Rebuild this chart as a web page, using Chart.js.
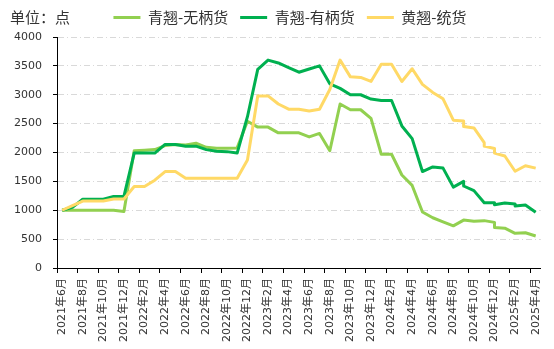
<!DOCTYPE html>
<html>
<head>
<meta charset="utf-8">
<script src="https://cdn.jsdelivr.net/npm/chart.js@4.4.0/dist/chart.umd.min.js"></script>
<style>
  html, body { margin: 0; padding: 0; background: #fff; }
  #contenedor { width: 554px; height: 349px; }
</style>
</head>
<body>
<div id="contenedor"><canvas id="graficoPrecios" width="554" height="349"></canvas></div>
<script>
// ------------------------------------------------------
// Datos: un valor por mes; si el precio cambió dentro del mes va como [antes, después]
// ------------------------------------------------------
const meses = [
    "2021年6月", "2021年7月", "2021年8月", "2021年9月", "2021年10月", "2021年11月", "2021年12月",
    "2022年1月", "2022年2月", "2022年3月", "2022年4月", "2022年5月", "2022年6月",
    "2022年7月", "2022年8月", "2022年9月", "2022年10月", "2022年11月", "2022年12月",
    "2023年1月", "2023年2月", "2023年3月", "2023年4月", "2023年5月", "2023年6月",
    "2023年7月", "2023年8月", "2023年9月", "2023年10月", "2023年11月", "2023年12月",
    "2024年1月", "2024年2月", "2024年3月", "2024年4月", "2024年5月", "2024年6月",
    "2024年7月", "2024年8月", "2024年9月", "2024年10月", "2024年11月", "2024年12月",
    "2025年1月", "2025年2月", "2025年3月", "2025年4月"
];

const nombresSeries = ["青翘-无柄货", "青翘-有柄货", "黄翘-统货"];
const tituloUnidad = "单位：点";

const qingSinTallo = [
    1000, 1000, 1000, 1000, 1000, 1000, 980,
    2030, 2040, 2050, 2120, 2140, 2130, 2160, 2090, 2075, 2075, 2080, 2540,
    2440, 2440, 2340, 2340, 2340, 2270, 2330, 2030, 2840, 2740, 2740, 2590,
    1970, 1970, 1610, 1430, 970, 870, 800, 730, 830, 810, 820, [790, 700],
    690, 600, 610, 555
];

const qingConTallo = [
    1000, 1050, 1190, 1190, 1190, 1240, 1240,
    1990, 1990, 1990, 2140, 2140, 2110, 2110, 2050, 2020, 2015, 1990, 2620,
    3440, 3600, 3550, 3470, 3390, 3445, 3500, 3190, 3110, 3000, 3000, 2925,
    2900, 2900, 2460, 2240, 1670, 1750, 1730, 1400, [1500, 1420], 1340, 1130, [1130, 1095],
    1125, [1110, 1075], 1090, 965
];

const huangComun = [
    1000, 1080, 1160, 1160, 1160, 1195, 1195,
    1410, 1410, 1520, 1670, 1670, 1555, 1555, 1555, 1555, 1555, 1555, 1870,
    2980, 2980, 2840, 2750, 2750, 2720, 2750, 3090, 3600, 3310, 3300, 3230,
    3530, 3530, 3230, 3450, 3180, 3040, 2930, 2560, [2545, 2450], 2425, [2170, 2110], [2070, 1990],
    1940, 1675, 1770, 1730
];

const ticksY = { min: 0, max: 4000, paso: 500 };

const fuenteTexto = '"Noto Sans CJK SC", "DejaVu Sans", sans-serif';
const fuenteEjes = '"DejaVu Sans", "Noto Sans CJK SC", sans-serif';

// varios valores en el mismo mes -> mismo x (tramo vertical)
function aPuntos(valores) {
    const puntos = [];
    valores.forEach((v, i) => {
        [].concat(v).forEach(y => puntos.push({ x: meses[i], y }));
    });
    return puntos;
}

function serie(nombre, valores, color, orden) {
    return {
        label: nombre,
        data: aPuntos(valores),
        borderColor: color,
        backgroundColor: color,
        borderWidth: 3,
        borderJoinStyle: "round",
        pointRadius: 0,
        tension: 0,
        order: orden
    };
}

// título de unidad arriba a la izquierda + leyenda algo corrida a la derecha
const tituloPlugin = {
    id: "tituloUnidad",
    afterLayout(chart) {
        chart.legend.left += 18;
        chart.legend.right += 18;
        chart.legend.top -= 2;
    },
    afterDraw(chart) {
        const ctx = chart.ctx;
        ctx.save();
        ctx.font = "15px " + fuenteTexto;
        ctx.fillStyle = "#333";
        ctx.textBaseline = "middle";
        ctx.fillText(tituloUnidad, 10, 17);
        ctx.restore();
    }
};

const ctx = document.getElementById("graficoPrecios").getContext("2d");

new Chart(ctx, {
    type: "line",
    data: {
        labels: meses,
        datasets: [
            serie(nombresSeries[0], qingSinTallo, "#92D050", 3),
            serie(nombresSeries[1], qingConTallo, "#00B050", 2),
            serie(nombresSeries[2], huangComun, "#FFD966", 1)
        ]
    },
    options: {
        responsive: false,
        animation: false,
        layout: { padding: { left: 0, right: 10, top: 0, bottom: 0 } },
        plugins: {
            legend: {
                position: "top",
                labels: {
                    boxWidth: 27,
                    boxHeight: 3,
                    padding: 12,
                    color: "#333",
                    font: { family: fuenteTexto, size: 15 },
                    generateLabels(chart) {
                        return Chart.defaults.plugins.legend.labels.generateLabels(chart)
                            .map(l => ({ ...l, lineWidth: 0 }))
                            .sort((a, b) => a.datasetIndex - b.datasetIndex);
                    }
                }
            },
            tooltip: { enabled: false }
        },
        scales: {
            x: {
                type: "category",
                offset: true,
                afterFit(escala) { escala.height = 81; },
                grid: {
                    offset: true,
                    drawOnChartArea: false,
                    drawTicks: true,
                    tickLength: 5,
                    tickColor: c => (c.index % 2 === 0 ? "#000" : "rgba(0,0,0,0)")
                },
                border: { color: "#000", width: 1 },
                ticks: {
                    autoSkip: false,
                    minRotation: 90,
                    maxRotation: 90,
                    padding: 5,
                    color: "#333",
                    font: { family: fuenteEjes, size: 11 },
                    callback: (valor, i) => (i % 2 === 0 ? meses[i] : "")
                }
            },
            y: {
                min: ticksY.min,
                max: ticksY.max,
                afterFit(escala) { escala.width = 57; },
                grid: {
                    color: "#D9D9D9",
                    lineWidth: 1,
                    tickColor: "#000",
                    tickLength: 4
                },
                border: { color: "#000", width: 1, dash: [6, 3, 1, 3] },
                ticks: {
                    stepSize: ticksY.paso,
                    padding: 11,
                    color: "#333",
                    font: { family: fuenteEjes, size: 11 },
                    callback: v => String(v)
                }
            }
        }
    },
    plugins: [tituloPlugin]
});
</script>
</body>
</html>
